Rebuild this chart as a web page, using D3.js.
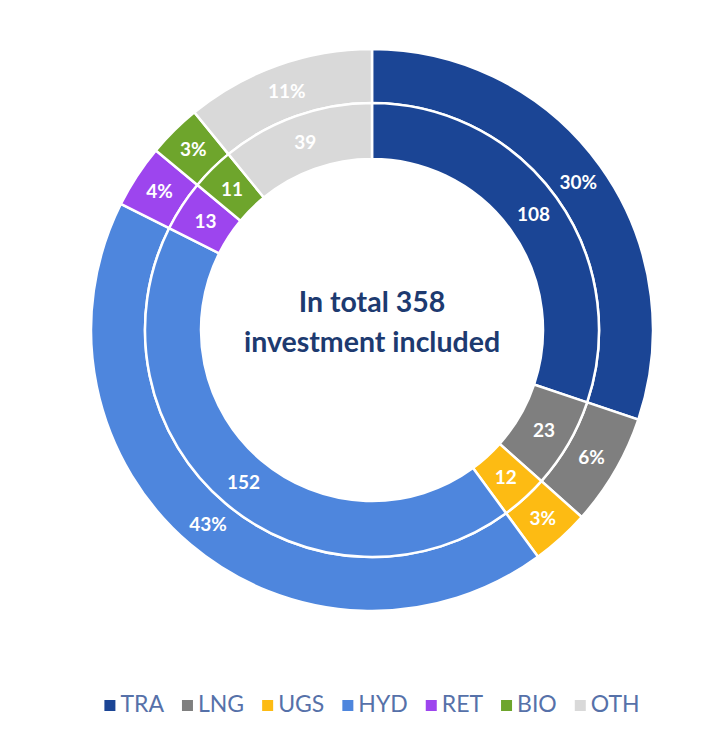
<!DOCTYPE html>
<html lang="en">
<head>
  <meta charset="UTF-8">
  <title>Investments by category</title>
  <script src="https://d3js.org/d3.v7.min.js"></script>
  <style>
    body { margin: 0; background: #fff; }
    text { font-family: Lato, "Open Sans", sans-serif; }
  </style>
</head>
<body>
  <script>
    var width = 723;
    var height = 731;
    var cx = 372, cy = 330;

    // data
    var categories = ["TRA", "LNG", "UGS", "HYD", "RET", "BIO", "OTH"];
    var counts = [108, 23, 12, 152, 13, 11, 39];
    var shares = ["30%", "6%", "3%", "43%", "4%", "3%", "11%"];
    var colors = ["#1b4595", "#7f7f7f", "#fdbb13", "#4e86dd", "#9d45ee", "#6ea52c", "#d9d9d9"];
    var centerLines = ["In total 358", "investment included"];

    var svg = d3.select("body").append("svg")
      .attr("width", width)
      .attr("height", height);

    var color = d3.scaleOrdinal().domain(categories).range(colors);

    var pie = d3.pie().sort(null).value(function(d) { return d.count; });
    var rows = categories.map(function(c, i) {
      return { cat: c, count: counts[i], share: shares[i] };
    });
    var arcsData = pie(rows);

    var innerArc = d3.arc().innerRadius(171).outerRadius(227);
    var outerArc = d3.arc().innerRadius(227).outerRadius(281);
    var innerLabel = d3.arc().innerRadius(199).outerRadius(199);
    var outerLabel = d3.arc().innerRadius(254).outerRadius(254);

    var g = svg.append("g").attr("transform", "translate(" + cx + "," + cy + ")");

    [[outerArc, outerLabel, "share"], [innerArc, innerLabel, "count"]].forEach(function(ring) {
      var ringG = g.append("g");
      ringG.selectAll("path")
        .data(arcsData)
        .enter().append("path")
        .attr("d", ring[0])
        .attr("fill", function(d) { return color(d.data.cat); })
        .attr("stroke", "#fff")
        .attr("stroke-width", 2.5);

      ringG.selectAll("text")
        .data(arcsData)
        .enter().append("text")
        .attr("transform", function(d) { return "translate(" + ring[1].centroid(d) + ")"; })
        .attr("text-anchor", "middle")
        .attr("dy", "0.36em")
        .attr("fill", "#fff")
        .attr("font-size", 19)
        .attr("font-weight", "bold")
        .text(function(d) { return d.data[ring[2]]; });
    });

    // centre text
    g.selectAll(".center")
      .data(centerLines)
      .enter().append("text")
      .attr("class", "center")
      .attr("text-anchor", "middle")
      .attr("y", function(d, i) { return -18 + i * 40; })
      .attr("fill", "#1d3a70")
      .attr("font-size", 28.5)
      .attr("font-weight", "bold")
      .text(function(d) { return d; });

    // legend
    var legend = svg.append("g").attr("transform", "translate(0,712)");
    var x = 0;
    var items = legend.selectAll("g")
      .data(categories)
      .enter().append("g");
    items.append("rect")
      .attr("y", -12)
      .attr("width", 11)
      .attr("height", 11)
      .attr("fill", function(d) { return color(d); });
    items.append("text")
      .attr("x", 16)
      .attr("fill", "#5671a9")
      .attr("font-size", 23)
      .text(function(d) { return d; });
    items.each(function() {
      var w = this.querySelector("text").getComputedTextLength() + 16;
      d3.select(this).attr("transform", "translate(" + x + ",0)");
      x += w + 18;
    });
    var total = x - 18;
    legend.attr("transform", "translate(" + (cx - total / 2) + ",712)");
  </script>
</body>
</html>
